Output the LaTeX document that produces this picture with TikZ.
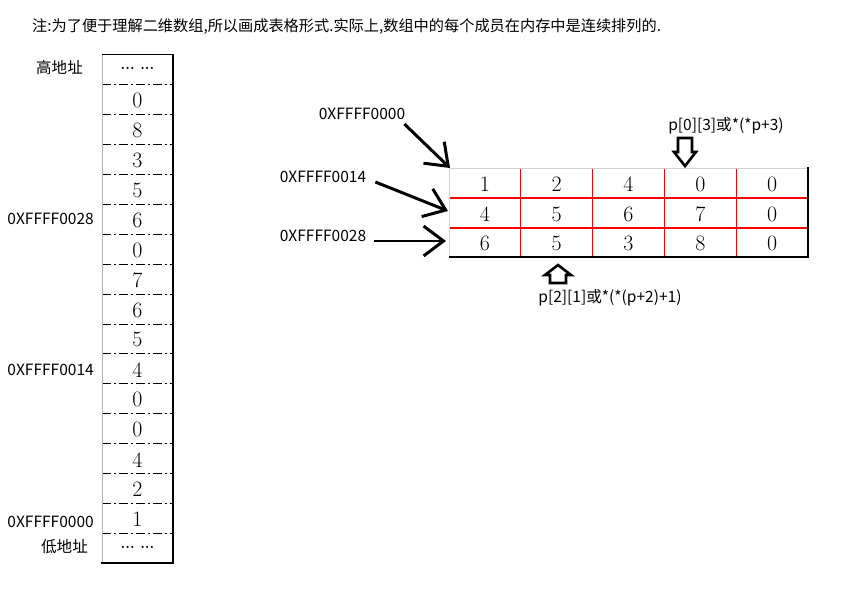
\documentclass[tikz,border=0pt]{standalone}
\usepackage{fontspec}
\newfontfamily\cjk{Noto Sans CJK SC}
\usetikzlibrary{arrows.meta,positioning,calc}

\begin{document}
\begin{tikzpicture}[
  x=1bp, y=-1bp,
  lbl/.style={font=\cjk\fontsize{15.6}{18}\selectfont, inner sep=0pt},
  num/.style={font=\fontsize{22}{24}\selectfont, inner sep=0pt},
  dotcell/.style={font=\bfseries\fontsize{15}{17}\selectfont, inner sep=0pt},
  sep/.style={black, line width=0.9pt, dash pattern=on 9pt off 3pt on 2pt off 3pt},
  redline/.style={draw=red, line width=1.1pt},
  addr/.style={-{Straight Barb[length=20pt,width=30pt]}, line width=3pt},
  blk/.style={draw, line width=2.6pt, fill=white, line join=miter}
]
\useasboundingbox (0,0) rectangle (854,602);
% ---------------- title
\node[lbl, font=\cjk\fontsize{15.25}{18}\selectfont, anchor=west] (title) at (32,27)
  {注:为了便于理解二维数组,所以画成表格形式.实际上,数组中的每个成员在内存中是连续排列的.};
% ---------------- memory column
\foreach \v [count=\i from 2] in {0,8,3,5,6,0,7,6,5,4,0,0,4,2,1}
  \node[num] (m\i) at (137.5,{55.5+(\i-0.5)*29.94}) {\v};
\node[dotcell] (m1) at (137.5,68) {...\ ...};
\node[dotcell] (m17) at (137.5,547) {...\ ...};
\foreach \i in {1,...,16}
  \draw[sep] (102,{54.5+\i*29.94}) -- (173,{54.5+\i*29.94});
\draw[gray!60, line width=0.8pt] (102.5,563) -- (102.5,54);
\draw[line width=0.8pt] (102,54.5) -- (173,54.5);
\draw[line width=2pt] (173,54) -- (173,563) -- (101,563);
\node[lbl, anchor=east] (hi) at (83,68) {高地址};
\node[lbl, anchor=east] (m28) at (94,219) {0XFFFF0028};
\node[lbl, anchor=east] (m14) at (94,370) {0XFFFF0014};
\node[lbl, anchor=east] (m00) at (94,522) {0XFFFF0000};
\node[lbl, anchor=east] (lo) at (88,547) {低地址};
% ---------------- table
\foreach \r/\row in {1/{1,2,4,0,0},2/{4,5,6,7,0},3/{6,5,3,8,0}}
  \foreach \v [count=\c] in \row
    \node[num] (t\r\c) at ({449+(\c-0.5)*71.8},{169.5+(\r-0.5)*29.7}) {\v};
\foreach \x in {520.5,592.5,664.5,736.5}
  \draw[redline] (\x,168) -- (\x,257);
\foreach \y in {198,228}
  \draw[redline, line width=1.6pt] (449,\y) -- (808,\y);
\draw[gray!35, line width=0.8pt] (449.5,257) -- (449.5,168.5) -- (808,168.5);
\draw[line width=2pt] (808,167) -- (808,257) -- (449,257);
\coordinate (tnw) at (450,168);
\coordinate (row2w) at (448,211);
\coordinate (row3w) at (446,241);
% ---------------- address arrows
\node[lbl] (a00) at (362,114) {0XFFFF0000};
\node[lbl] (a14) at (323,177) {0XFFFF0014};
\node[lbl] (a28) at (323,236) {0XFFFF0028};
\draw[addr] ($(a00.south east)+(-1,4)$) -- (tnw);
\draw[addr] ($(a14.east)+(9,5)$) -- (row2w);
\draw[addr] ($(a28.east)+(8,5)$) -- (row3w);
% ---------------- element pointers
\coordinate (dn) at (685,166);
\draw[blk] (dn) -- ++(-11,-14) -- ++(4,0) -- ++(0,-14) -- ++(14,0) -- ++(0,14) -- ++(4,0) -- cycle;
\node[lbl] (p03) at (726,126) {p[0][3]或*(*p+3)};
\coordinate (up) at (558,265);
\draw[blk] (up) -- ++(13,10) -- ++(-5,0) -- ++(0,8) -- ++(-16,0) -- ++(0,-8) -- ++(-5,0) -- cycle;
\node[lbl] (p21) at (610,298) {p[2][1]或*(*(p+2)+1)};
\end{tikzpicture}
\end{document}
